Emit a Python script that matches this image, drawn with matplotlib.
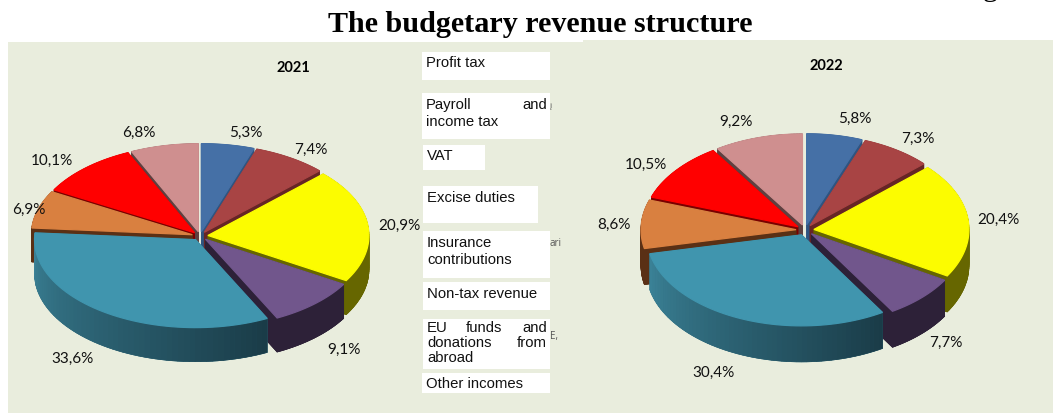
import numpy as np
import matplotlib
matplotlib.use("Agg")
import matplotlib.pyplot as plt
from matplotlib.patches import Polygon, Rectangle

# revenue shares, clockwise from the top
values_2021 = [5.3, 7.4, 20.9, 9.1, 33.6, 6.9, 10.1, 6.8]
values_2022 = [5.8, 7.3, 20.4, 7.7, 30.4, 8.6, 10.5, 9.2]
labels_2021 = ["5,3%", "7,4%", "20,9%", "9,1%", "33,6%", "6,9%", "10,1%", "6,8%"]
labels_2022 = ["5,8%", "7,3%", "20,4%", "7,7%", "30,4%", "8,6%", "10,5%", "9,2%"]
legend_names = ["Profit tax", "Payroll and income tax", "VAT", "Excise duties",
                "Insurance contributions", "Non-tax revenue",
                "EU funds and donations from abroad", "Other incomes"]

top_colors = ["#4570A6", "#A84444", "#FCFC00", "#71568C", "#4095AE", "#D98040", "#FF0000", "#CF8F8F"]
side_colors = ["#2F5480", "#662525", "#666600", "#2D2138", "#2F6E80", "#5A3015", "#7A0000", "#5E4040"]

# label places in pixels
label_xy_2021 = [(246, 133), (311, 150), (399, 226), (344, 350), (72, 359), (29, 210), (52, 161), (139, 133)]
label_xy_2022 = [(855, 119), (918, 139), (998, 220), (946, 343), (713, 373), (614, 225), (646, 165), (736, 122)]

fig = plt.figure(figsize=(10.53, 4.13), dpi=100)
ax = fig.add_axes([0, 0, 1, 1])
ax.set_xlim(0, 1053)
ax.set_ylim(413, 0)
ax.axis("off")

panel = "#E9EDDD"
ax.add_patch(Rectangle((8, 42), 575, 371, fc=panel, ec="none"))
ax.add_patch(Rectangle((583, 40), 470, 373, fc=panel, ec="none"))


def mix(c1, c2, f):
    a = np.array(matplotlib.colors.to_rgb(c1))
    b = np.array(matplotlib.colors.to_rgb(c2))
    return tuple(a + (b - a) * f)


def draw_pie(values, cx, cy, rx, ry, depth, explode):
    edges = np.cumsum([0] + values) / sum(values) * 2 * np.pi
    slices = []
    for i in range(len(values)):
        mid = (edges[i] + edges[i + 1]) / 2
        ox = cx + explode * np.sin(mid)
        oy = cy - explode * ry / rx * np.cos(mid)
        t = np.linspace(edges[i], edges[i + 1], 60)
        xs = ox + rx * np.sin(t)
        ys = oy - ry * np.cos(t)
        slices.append((oy + ry * 0.5 * -np.cos(mid), i, ox, oy, xs, ys))

    # back slices first so the front ones cover them
    for _, i, ox, oy, xs, ys in sorted(slices, key=lambda s: s[0]):
        px = np.r_[ox, xs]
        py = np.r_[oy, ys]
        wall = side_colors[i]
        ax.add_patch(Polygon(np.c_[px, py + depth], fc=wall, ec=wall, lw=0.5))
        for a, b in [(0, 1), (len(px) - 1, 0)]:
            quad = [(px[a], py[a]), (px[b], py[b]), (px[b], py[b] + depth), (px[a], py[a] + depth)]
            ax.add_patch(Polygon(quad, fc=wall, ec=wall, lw=0.5))
        for k in range(len(xs) - 1):
            col = wall
            if i == 4:  # big slice has a shaded rim, dark on the right
                col = mix("#1A3C48", "#3B8297", k / (len(xs) - 2))
            quad = [(xs[k], ys[k]), (xs[k + 1], ys[k + 1]), (xs[k + 1], ys[k + 1] + depth), (xs[k], ys[k] + depth)]
            ax.add_patch(Polygon(quad, fc=col, ec=col, lw=0.5))
        ax.add_patch(Polygon(np.c_[px, py], fc=top_colors[i], ec=top_colors[i], lw=0.9))


draw_pie(values_2021, 200, 236, 161, 88, 34, 8)
draw_pie(values_2022, 805, 230, 155, 91, 36, 9)

for txt, (x, y) in zip(labels_2021 + labels_2022, label_xy_2021 + label_xy_2022):
    ax.text(x, y, txt, family="Lato", fontsize=11, ha="center", va="center", color="#111111")

ax.text(293, 68, "2021", family="Lato", fontsize=10.5, weight="bold", ha="center", va="center")
ax.text(826, 66, "2022", family="Lato", fontsize=10.5, weight="bold", ha="center", va="center")

ax.text(540, 25, "The budgetary revenue structure", family="Liberation Serif", fontsize=21.7,
        weight="bold", ha="center", va="center")
# tail of the line above, cut off by the page edge
ax.text(990, -4, "g", family="Liberation Serif", fontsize=21.7, ha="center", va="baseline")

# leftovers of the text under the white boxes
ax.text(551, 106, "į", family="Open Sans", fontsize=6, color="#555555", ha="center", va="center")
ax.text(555, 244, "ari", family="Open Sans", fontsize=7, color="#555555", ha="center", va="center")
ax.text(554, 337, "E,", family="Open Sans", fontsize=7, color="#555555", ha="center", va="center")

# white legend boxes: x, y, w, h
boxes = [(422, 52, 128, 28), (422, 93, 128, 46), (423, 145, 62, 25), (423, 186, 115, 37),
         (423, 231, 127, 47), (423, 282, 127, 28), (423, 319, 127, 50), (422, 373, 128, 20)]
for x, y, w, h in boxes:
    ax.add_patch(Rectangle((x, y), w, h, fc="white", ec="none"))

# legend text, justified lines are split into words
legend_lines = [
    [(426, 63, legend_names[0])],
    [(426, 105, "Payroll"), (547, 105, "and"), (426, 122, "income tax")],
    [(427, 156, legend_names[2])],
    [(427, 198, legend_names[3])],
    [(427, 243, "Insurance"), (427, 260, "contributions")],
    [(427, 294, legend_names[5])],
    [(427, 328, "EU"), (466, 328, "funds"), (547, 328, "and"), (427, 343, "donations"),
     (547, 343, "from"), (427, 358, "abroad")],
    [(426, 384, legend_names[7])],
]
for line in legend_lines:
    for x, y, txt in line:
        ha = "right" if x == 547 else "left"
        ax.text(x, y, txt, family="Liberation Sans", fontsize=10.7, ha=ha, va="center", color="#111111")

fig.savefig("out.png", dpi=100)
